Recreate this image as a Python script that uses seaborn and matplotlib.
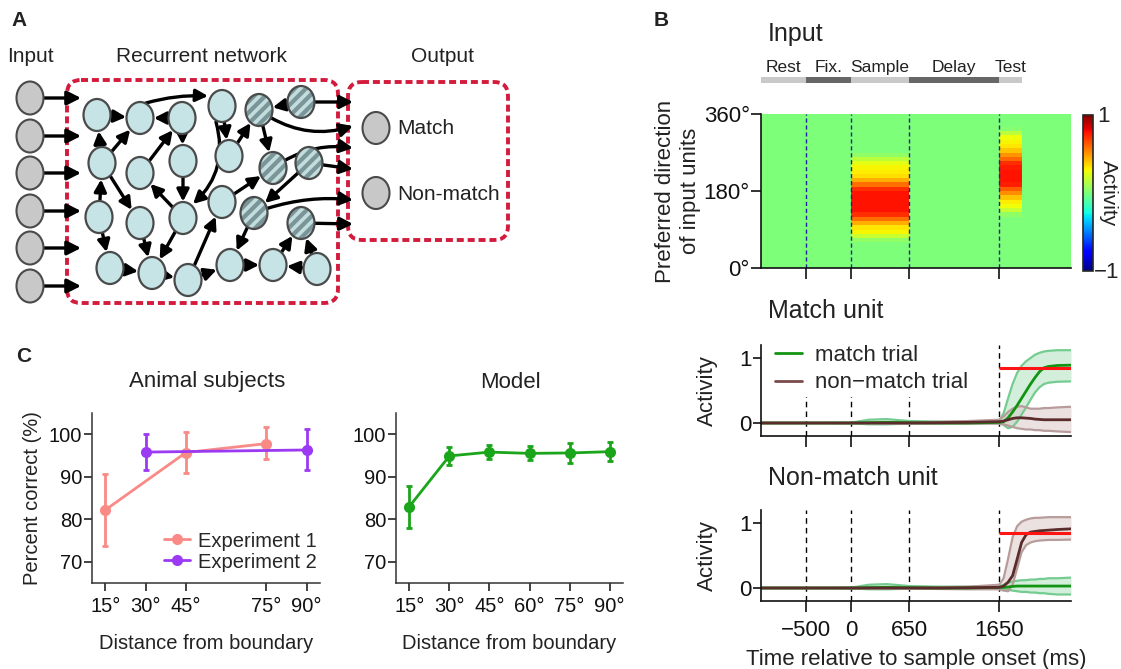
import numpy as np
import pandas as pd
import matplotlib
matplotlib.use("Agg")
import matplotlib.pyplot as plt
import seaborn as sns
from matplotlib.patches import Ellipse, FancyArrowPatch, FancyBboxPatch
from matplotlib.lines import Line2D
from matplotlib import font_manager

# ======================= DATA =======================
# Panel C: percent correct vs distance from category boundary
exp1_dist = [15, 45, 75]
exp1_pct = [82.2, 95.7, 97.8]
exp1_low = [73.8, 91.0, 94.1]
exp1_high = [90.6, 100.6, 101.6]
exp2_dist = [30, 90]
exp2_pct = [95.8, 96.3]
exp2_low = [91.6, 91.6]
exp2_high = [100.1, 101.2]
model_dist = [15, 30, 45, 60, 75, 90]
model_pct = [83.0, 94.9, 95.8, 95.5, 95.6, 95.9]
model_low = [78.0, 92.7, 94.2, 94.0, 93.2, 93.8]
model_high = [87.9, 97.1, 97.4, 97.2, 98.0, 98.1]
animal_xticks = [15, 30, 45, 75, 90]
model_xticks = [15, 30, 45, 60, 75, 90]
pct_yticks = [70, 80, 90, 100]

# Panel B: trial epochs (ms relative to sample onset)
epoch_names = ["Rest", "Fix.", "Sample", "Delay", "Test"]
epoch_start = [-1000, -500, 0, 650, 1650]
epoch_end = [-500, 0, 650, 1650, 1900]
time_ticks = [-500, 0, 650, 1650]
time_ticklabels = ["\u2212500", "0", "650", "1650"]

# Input heatmap: 10-degree direction bins, 50 ms time bins
direction_edges = list(range(0, 361, 10))
time_edges = list(range(-1000, 2451, 50))
baseline_input = 0.0
sample_profile = [0.0, 0.0, 0.0, 0.0, 0.0, 0.0, 0.05, 0.18, 0.3, 0.33,
                  0.45, 0.58, 0.72, 0.78, 0.78, 0.78, 0.78, 0.78, 0.72, 0.58,
                  0.45, 0.35, 0.32, 0.3, 0.25, 0.15, 0.05, 0.0, 0.0, 0.0,
                  0.0, 0.0, 0.0, 0.0, 0.0, 0.0]
test_profile = [0.0, 0.0, 0.0, 0.0, 0.0, 0.0, 0.0, 0.0, 0.0, 0.0,
                0.0, 0.0, 0.05, 0.18, 0.28, 0.32, 0.4, 0.52, 0.62, 0.75,
                0.78, 0.78, 0.78, 0.76, 0.72, 0.6, 0.5, 0.4, 0.33, 0.3,
                0.28, 0.15, 0.03, 0.0, 0.0, 0.0]

# Output unit activity (mean and band) over time
trace_time = [-1000, -500, 0, 200, 400, 650, 1000, 1300, 1650, 1700, 1750,
              1800, 1850, 1900, 1950, 2000, 2050, 2100, 2150, 2200, 2300, 2450]
decision_threshold = 0.85
# Match unit
mu_match_mean = [0, 0, 0, 0.005, 0.01, 0.005, 0, 0, 0.01, 0.02, 0.08,
                 0.17, 0.27, 0.38, 0.49, 0.6, 0.7, 0.79, 0.85, 0.87, 0.885, 0.89]
mu_match_high = [0, 0, 0.005, 0.05, 0.06, 0.03, 0.02, 0.02, 0.03, 0.15, 0.38,
                 0.6, 0.77, 0.88, 0.95, 1.0, 1.05, 1.08, 1.1, 1.11, 1.12, 1.12]
mu_match_low = [0, 0, -0.005, -0.02, -0.02, -0.01, -0.01, -0.01, 0.0, -0.03, -0.08,
                -0.06, 0.02, 0.13, 0.24, 0.36, 0.47, 0.55, 0.6, 0.62, 0.635, 0.64]
mu_non_mean = [0, 0, 0, 0, 0, 0, 0.005, 0.01, 0.02, 0.03, 0.05,
               0.07, 0.08, 0.08, 0.075, 0.07, 0.06, 0.055, 0.05, 0.05, 0.05, 0.05]
mu_non_high = [0, 0, 0, 0.005, 0.01, 0.01, 0.02, 0.03, 0.05, 0.1, 0.17,
               0.22, 0.25, 0.26, 0.24, 0.22, 0.22, 0.22, 0.23, 0.23, 0.24, 0.25]
mu_non_low = [0, 0, 0, -0.005, -0.01, -0.01, -0.01, -0.01, -0.01, -0.02, -0.04,
              -0.06, -0.08, -0.09, -0.1, -0.1, -0.11, -0.11, -0.12, -0.12, -0.13, -0.14]
# Non-match unit
nu_match_mean = [0, 0, 0, 0.005, 0.01, 0.005, 0, 0, 0.01, 0.01, 0.015,
                 0.025, 0.03, 0.03, 0.03, 0.03, 0.03, 0.03, 0.03, 0.03, 0.03, 0.03]
nu_match_high = [0, 0, 0.005, 0.05, 0.06, 0.03, 0.02, 0.02, 0.03, 0.05, 0.08,
                 0.1, 0.11, 0.12, 0.12, 0.13, 0.13, 0.14, 0.14, 0.15, 0.15, 0.16]
nu_match_low = [0, 0, -0.005, -0.02, -0.02, -0.01, -0.01, -0.01, 0.0, -0.02, -0.03,
                -0.04, -0.05, -0.06, -0.06, -0.07, -0.07, -0.08, -0.08, -0.09, -0.1, -0.1]
nu_non_mean = [0, 0, 0, 0, 0, 0, 0, 0.005, 0.01, 0.03, 0.09,
               0.19, 0.44, 0.7, 0.82, 0.86, 0.87, 0.88, 0.885, 0.89, 0.9, 0.91]
nu_non_high = [0, 0, 0.005, 0.01, 0.01, 0.01, 0.015, 0.02, 0.05, 0.15, 0.45,
               0.78, 0.95, 1.02, 1.05, 1.07, 1.08, 1.08, 1.085, 1.09, 1.09, 1.09]
nu_non_low = [0, 0, -0.005, -0.01, -0.01, -0.01, -0.015, -0.02, -0.02, -0.04, -0.05,
              0.05, 0.3, 0.55, 0.66, 0.7, 0.72, 0.73, 0.735, 0.74, 0.74, 0.745]

# Panel A network layout (diagram coordinates)
input_y = [98, 136, 173, 211, 248, 286]
rec_x = [97, 140, 182, 222, 259, 301, 102, 140, 183, 229, 273, 309,
         99, 140, 183, 222, 254, 301, 110, 152, 188, 230, 273, 317]
rec_y = [115, 118, 118, 106, 110, 102, 163, 173, 161, 156, 168, 163,
         217, 223, 218, 202, 213, 223, 268, 273, 280, 265, 265, 269]
hatched_nodes = [5, 6, 11, 12, 17, 18]
edges = [(1, 2), (3, 2), (7, 1), (7, 2), (8, 3), (3, 9), (9, 15), (15, 8),
         (13, 7), (7, 14), (13, 19), (14, 20), (15, 20), (19, 20), (20, 21),
         (21, 16), (21, 22), (22, 23), (24, 23), (23, 18), (24, 18), (17, 22),
         (12, 17), (16, 11), (4, 10), (10, 5), (5, 11), (6, 5)]
output_sources = [6, 5, 11, 12, 17, 18]
output_target_y = [102, 126, 148, 169, 200, 224]
output_curve = [0.0, 0.25, -0.2, 0.0, -0.12, 0.0]

# ======================= STYLE =======================
sns.set_theme(style="ticks")
plt.rcParams['font.family'] = ['Liberation Sans', 'DejaVu Sans']
plt.rcParams['hatch.linewidth'] = 2.6
TXT = '#222222'
font_names = {f.name for f in font_manager.fontManager.ttflist}
narrow = 'Liberation Sans Narrow' in font_names
fontA = ['Liberation Sans Narrow', 'Liberation Sans', 'DejaVu Sans'] if narrow else ['Liberation Sans', 'DejaVu Sans']
sizeA = 17 if narrow else 15

W, H = 1121, 669
fig = plt.figure(figsize=(W / 100, H / 100), dpi=100)


def px_axes(x0, y0, x1, y1):
    return fig.add_axes([x0 / W, 1 - y1 / H, (x1 - x0) / W, (y1 - y0) / H])


# overlay in pixel coordinates for diagram and labels
axO = fig.add_axes([0, 0, 1, 1])
axO.set_xlim(0, W)
axO.set_ylim(H, 0)
axO.axis('off')

# ---------------- Panel A ----------------
RED = '#d31c3d'
axO.add_patch(FancyBboxPatch((67, 80), 271, 223, boxstyle="round,pad=0,rounding_size=14",
                             fill=False, ec=RED, lw=2.8, ls=(0, (1.8, 1.0)), zorder=1))
axO.add_patch(FancyBboxPatch((348, 82), 160, 158, boxstyle="round,pad=0,rounding_size=14",
                             fill=False, ec=RED, lw=2.8, ls=(0, (1.8, 1.0)), zorder=1))

EA, EB = 13.5, 16.0


def shrink_pt(dx, dy):
    ang = np.arctan2(dy, dx)
    r = EA * EB / np.hypot(EB * np.cos(ang), EA * np.sin(ang))
    return r * 0.72 + 0.3


def arrow(p0, p1, rad=0.0, sA=0.0, sB=0.0, ms=13, lw=2.4):
    axO.add_patch(FancyArrowPatch(p0, p1, arrowstyle='-|>,head_length=0.55,head_width=0.28',
                                  connectionstyle=f'arc3,rad={rad}', mutation_scale=ms,
                                  lw=lw, color='black', shrinkA=sA, shrinkB=sB, zorder=2))


for y in input_y:
    axO.add_patch(Ellipse((30, y), 27, 33, fc='#c8c8c8', ec='#4a4a4a', lw=1.5, zorder=4))
    arrow((43, y), (81, y), ms=15)

for a, b in edges:
    x0, y0 = rec_x[a - 1], rec_y[a - 1]
    x1, y1 = rec_x[b - 1], rec_y[b - 1]
    s = shrink_pt(x1 - x0, y1 - y0)
    arrow((x0, y0), (x1, y1), sA=s, sB=s)
# curved recurrent arrows
arrow((146, 103), (208, 96), rad=-0.08)
arrow((216, 122), (193, 204), rad=-0.3)

for src, ty, rad in zip(output_sources, output_target_y, output_curve):
    x0, y0 = rec_x[src - 1], rec_y[src - 1]
    s = shrink_pt(353 - x0, ty - y0)
    arrow((x0, y0), (353, ty), rad=rad, sA=s, ms=14)

for i, (x, y) in enumerate(zip(rec_x, rec_y)):
    if (i + 1) in hatched_nodes:
        axO.add_patch(Ellipse((x, y), 27, 32, fc='#7a9598', ec='#c3dcdd', hatch='///', lw=0, zorder=4))
        axO.add_patch(Ellipse((x, y), 27, 32, fc='none', ec='#4a4a4a', lw=1.6, zorder=5))
    else:
        axO.add_patch(Ellipse((x, y), 27, 32, fc='#c6e3e5', ec='#4a4a4a', lw=1.6, zorder=4))

for y in [128, 193]:
    axO.add_patch(Ellipse((376, y), 27, 32, fc='#c8c8c8', ec='#4a4a4a', lw=1.5, zorder=4))
axO.text(397, 129, "Match", fontsize=sizeA, family=fontA, color=TXT, va='center', ha='left')
axO.text(397, 194, "Non-match", fontsize=sizeA, family=fontA, color=TXT, va='center', ha='left')
axO.text(30, 56, "Input", fontsize=sizeA, family=fontA, color=TXT, va='center', ha='center')
axO.text(202, 56, "Recurrent network", fontsize=sizeA, family=fontA, color=TXT, va='center', ha='center')
axO.text(443, 56, "Output", fontsize=sizeA, family=fontA, color=TXT, va='center', ha='center')

for lab, (x, y) in zip(["A", "B", "C"], [(19, 20), (661, 20), (24, 357)]):
    axO.text(x, y, lab, fontsize=15, fontweight='bold', color=TXT, va='center', ha='center')

# titles
axO.text(768, 34, "Input", fontsize=18, color=TXT, va='center', ha='left')
axO.text(768, 311, "Match unit", fontsize=18, color=TXT, va='center', ha='left')
axO.text(768, 478, "Non-match unit", fontsize=18, color=TXT, va='center', ha='left')
axO.text(207, 382, "Animal subjects", fontsize=16, color=TXT, va='center', ha='center')
axO.text(510, 382, "Model", fontsize=16, color=TXT, va='center', ha='center')

# ---------------- Panel B: epochs bar ----------------
TLIM = (-1000, 2450)
axE = px_axes(761, 77, 1071, 83)
axE.set_xlim(*TLIM)
axE.set_ylim(0, 1)
axE.axis('off')
epoch_colors = ['#c9c9c9', '#676767', '#c9c9c9', '#676767', '#c9c9c9']
axE.barh([0.5] * 5, np.subtract(epoch_end, epoch_start), left=epoch_start, height=1.0,
         color=epoch_colors, linewidth=0)
for name, s, e in zip(epoch_names, epoch_start, epoch_end):
    axE.text((s + e) / 2, 2.6, name, fontsize=12.5, color=TXT, ha='center', va='center')

# ---------------- Panel B: input heatmap ----------------
axH = px_axes(761, 114, 1071, 268)
te = np.array(time_edges, dtype=float)
tc = (te[:-1] + te[1:]) / 2
Z = np.full((len(direction_edges) - 1, len(tc)), baseline_input)
Z[:, (tc > epoch_start[2]) & (tc < epoch_end[2])] = np.array(sample_profile)[:, None]
Z[:, (tc > epoch_start[4]) & (tc < epoch_end[4])] = np.array(test_profile)[:, None]
mesh = axH.pcolormesh(te, direction_edges, Z, cmap='jet', vmin=-1, vmax=1, shading='flat')
for t in time_ticks:
    axH.axvline(t, color='#2020a0', lw=1, ls=(0, (3, 2)))
axH.set_xlim(*TLIM)
axH.set_ylim(0, 360)
axH.set_xticks(time_ticks)
axH.set_xticklabels([])
axH.set_yticks([0, 180, 360])
axH.set_yticklabels(["0\u00b0", "180\u00b0", "360\u00b0"])
axH.tick_params(axis='y', labelsize=16, length=7, width=1.2, pad=1, colors='#111')
axH.tick_params(axis='x', length=8, width=1.2, colors='#111')
for sp in ['top', 'right']:
    axH.spines[sp].set_visible(False)
for sp in ['left', 'bottom']:
    axH.spines[sp].set_color('#111')
    axH.spines[sp].set_linewidth(1.2)
axH.set_ylabel("Preferred direction\nof input units", fontsize=16, color=TXT)
axH.yaxis.set_label_coords(-0.195, 0.5)

cax = px_axes(1083, 115, 1093, 271)
cb = fig.colorbar(mesh, cax=cax)
cb.set_ticks([])
cb.outline.set_linewidth(1.2)
axO.text(1097, 117, "1", fontsize=16, color=TXT, ha='left', va='center')
axO.text(1094, 273, "\u22121", fontsize=16, color=TXT, ha='left', va='center')
axO.text(1108, 193, "Activity", fontsize=15, color=TXT, ha='center', va='center', rotation=270)

# ---------------- Panel B: output units ----------------
GREEN, GREEN_F, GREEN_E = '#129412', '#9edcb0', '#74cc90'
BROWN, BROWN_F, BROWN_E = '#5b2c2c', '#dccaca', '#b89c9c'


def unit_panel(ax, g_mean, g_low, g_high, b_mean, b_low, b_high, legend, xlabels):
    ax.fill_between(trace_time, g_low, g_high, color=GREEN_F, alpha=0.45, lw=0, zorder=2)
    ax.fill_between(trace_time, b_low, b_high, color=BROWN_F, alpha=0.55, lw=0, zorder=2)
    for arr in (g_low, g_high):
        ax.plot(trace_time, arr, color=GREEN_E, lw=1.6, zorder=3)
    for arr in (b_low, b_high):
        ax.plot(trace_time, arr, color=BROWN_E, lw=1.6, zorder=3)
    sns.lineplot(x=trace_time, y=g_mean, color=GREEN, lw=2, ax=ax, zorder=4)
    sns.lineplot(x=trace_time, y=b_mean, color=BROWN, lw=2, ax=ax, zorder=5)
    for t in time_ticks:
        ax.axvline(t, color='black', lw=1, ls=(0, (4, 3)), zorder=1)
    ax.hlines(decision_threshold, epoch_start[4], TLIM[1], color='#ff1414', lw=2.2, zorder=6)
    ax.set_xlim(*TLIM)
    ax.set_ylim(-0.2, 1.2)
    ax.set_yticks([0, 1])
    ax.set_yticklabels(["0", "1"])
    ax.set_xticks(time_ticks)
    if xlabels:
        ax.set_xticklabels(time_ticklabels)
        ax.set_xlabel("Time relative to sample onset (ms)", fontsize=16, color=TXT)
        ax.xaxis.set_label_coords(0.5, -0.53)
    else:
        ax.set_xticklabels([])
    ax.tick_params(axis='y', labelsize=16, length=6, width=1.2, pad=1, colors='#111')
    ax.tick_params(axis='x', labelsize=16, length=8, width=1.2, pad=6, colors='#111')
    ax.set_ylabel("Activity", fontsize=16, color=TXT)
    ax.yaxis.set_label_coords(-0.14, 0.5)
    sns.despine(ax=ax)
    for sp in ['left', 'bottom']:
        ax.spines[sp].set_color('#111')
        ax.spines[sp].set_linewidth(1.2)
        ax.spines[sp].set_zorder(8)
    if legend:
        handles = [Line2D([], [], color=GREEN, lw=2), Line2D([], [], color='#7a4b4b', lw=2)]
        leg = ax.legend(handles, ["match trial", "non\u2212match trial"], loc='upper left',
                        bbox_to_anchor=(0.035, 1.04), fontsize=16, frameon=True, fancybox=False,
                        handlelength=1.2, handletextpad=0.6, borderpad=0.15, labelspacing=0.3,
                        borderaxespad=0)
        leg.get_frame().set_facecolor('white')
        leg.get_frame().set_edgecolor('none')
        leg.get_frame().set_alpha(1)
        leg.set_zorder(7)
    elif ax.get_legend() is not None:
        ax.get_legend().remove()


axM = px_axes(761, 345, 1071, 436)
unit_panel(axM, mu_match_mean, mu_match_low, mu_match_high,
           mu_non_mean, mu_non_low, mu_non_high, True, False)
axN = px_axes(761, 510, 1071, 601)
unit_panel(axN, nu_match_mean, nu_match_low, nu_match_high,
           nu_non_mean, nu_non_low, nu_non_high, False, True)

# ---------------- Panel C ----------------
SALMON, PURPLE, MGREEN = '#f98a86', '#9b3af2', '#1aa51a'


def perf_series(ax, dist, pct, low, high, color, label):
    df = pd.DataFrame({'dist': dist, 'pct': pct})
    sns.lineplot(data=df, x='dist', y='pct', color=color, marker='o', markersize=8,
                 markeredgewidth=0, lw=2, ax=ax, label=label, legend=False, zorder=3)
    ax.errorbar(dist, pct, yerr=[np.subtract(pct, low), np.subtract(high, pct)], fmt='none',
                ecolor=color, elinewidth=2, capsize=2.5, capthick=2, zorder=2)


def perf_axes(ax, xticks):
    ax.set_xlim(10, 95)
    ax.set_ylim(65, 105)
    ax.set_xticks(xticks)
    ax.set_xticklabels([f"{v}\u00b0" for v in xticks])
    ax.set_yticks(pct_yticks)
    ax.tick_params(axis='both', labelsize=14.5, length=6, width=1.1, colors='#111')
    ax.tick_params(axis='y', pad=1)
    ax.tick_params(axis='x', pad=4)
    ax.set_xlabel("Distance from boundary", fontsize=14.5, color=TXT)
    ax.xaxis.set_label_coords(0.5, -0.3)
    sns.despine(ax=ax)
    for sp in ['left', 'bottom']:
        ax.spines[sp].set_color('#333')
        ax.spines[sp].set_linewidth(1.1)


axC1 = px_axes(92, 413, 320, 583)
perf_series(axC1, exp1_dist, exp1_pct, exp1_low, exp1_high, SALMON, "Experiment 1")
perf_series(axC1, exp2_dist, exp2_pct, exp2_low, exp2_high, PURPLE, "Experiment 2")
perf_axes(axC1, animal_xticks)
axC1.set_ylabel("Percent correct (%)", fontsize=14.5, color=TXT)
axC1.yaxis.set_label_coords(-0.22, 0.5)
lh = [Line2D([], [], color=SALMON, lw=2, marker='o', markersize=8, markeredgewidth=0),
      Line2D([], [], color=PURPLE, lw=2, marker='o', markersize=8, markeredgewidth=0)]
axC1.legend(lh, ["Experiment 1", "Experiment 2"], loc='lower right', bbox_to_anchor=(1.02, 0.02),
            fontsize=14.5, frameon=False, handlelength=1.3, handletextpad=0.4,
            labelspacing=0.1, borderaxespad=0)

axC2 = px_axes(396, 413, 623, 583)
perf_series(axC2, model_dist, model_pct, model_low, model_high, MGREEN, None)
perf_axes(axC2, model_xticks)
axC2.set_ylabel("")

fig.savefig("out.png", dpi=100)
